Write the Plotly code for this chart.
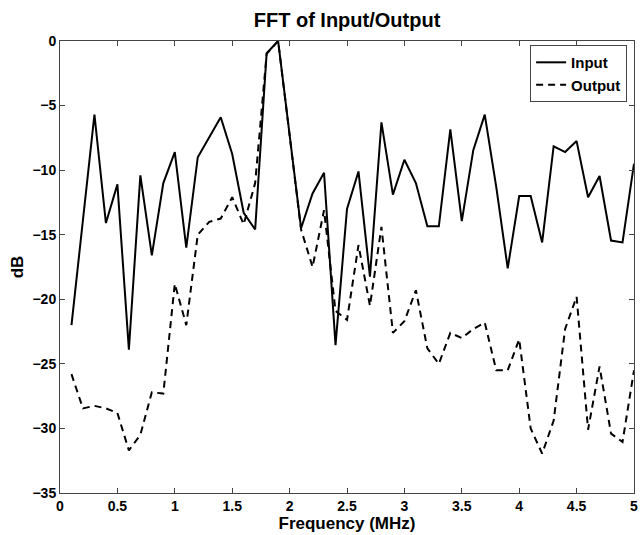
import plotly.graph_objects as go

freq_mhz = [0.1, 0.2, 0.3, 0.4, 0.5, 0.6, 0.7, 0.8, 0.9, 1.0,
            1.1, 1.2, 1.3, 1.4, 1.5, 1.6, 1.7, 1.8, 1.9, 2.0,
            2.1, 2.2, 2.3, 2.4, 2.5, 2.6, 2.7, 2.8, 2.9, 3.0,
            3.1, 3.2, 3.3, 3.4, 3.5, 3.6, 3.7, 3.8, 3.9, 4.0,
            4.1, 4.2, 4.3, 4.4, 4.5, 4.6, 4.7, 4.8, 4.9, 5.0]

input_db = [-22.0, -13.9, -5.7, -14.1, -11.1, -23.9, -10.4, -16.6, -11.0, -8.6,
            -16.0, -9.0, -7.5, -5.9, -8.75, -13.3, -14.6, -0.95, 0.0, -7.3,
            -14.5, -11.8, -10.2, -23.55, -13.0, -10.1, -18.25, -6.3, -11.9, -9.2,
            -11.0, -14.35, -14.35, -6.85, -13.95, -8.45, -5.7, -11.3, -17.6, -12.0,
            -12.0, -15.6, -8.15, -8.6, -7.75, -12.1, -10.45, -15.45, -15.6, -9.5]

output_db = [-25.8, -28.45, -28.25, -28.45, -28.8, -31.7, -30.5, -27.2, -27.3, -18.8,
             -22.0, -15.0, -14.0, -13.75, -12.1, -14.2, -11.0, -1.0, 0.0, -7.3,
             -14.6, -17.5, -13.1, -20.9, -21.6, -15.8, -20.5, -14.4, -22.6, -21.7,
             -19.3, -23.8, -25.0, -22.6, -23.0, -22.3, -21.8, -25.5, -25.5, -23.1,
             -30.0, -31.95, -29.4, -22.3, -19.8, -30.1, -25.2, -30.4, -31.05, -25.5]

x_ticks = [0, 0.5, 1, 1.5, 2, 2.5, 3, 3.5, 4, 4.5, 5]
y_ticks = [-35, -30, -25, -20, -15, -10, -5, 0]

FONT = "Liberation Sans, Arial, Helvetica, sans-serif"
AXIS_COLOR = "#444444"

fig = go.Figure()
fig.add_trace(go.Scatter(x=freq_mhz, y=input_db, mode="lines", name="Input",
                         line=dict(color="black", width=2)))
fig.add_trace(go.Scatter(x=freq_mhz, y=output_db, mode="lines", name="Output",
                         line=dict(color="black", width=2, dash="7px,5px")))

axis_common = dict(
    showline=True, linecolor=AXIS_COLOR, linewidth=1, mirror="ticks",
    ticks="inside", ticklen=5, tickcolor=AXIS_COLOR, tickwidth=1,
    showgrid=False, zeroline=False, ticklabeloverflow="allow",
    tickfont=dict(family=FONT, size=14, color="black", weight="bold"),
)

fig.update_layout(
    width=641, height=535,
    margin=dict(l=60, r=3, t=41, b=42),
    paper_bgcolor="white", plot_bgcolor="white",
    title=dict(text="FFT of Input/Output", x=0.5, xref="paper", xanchor="center",
               y=1 - 20 / 535, yanchor="middle", yref="container",
               font=dict(family=FONT, size=20, color="black", weight="bold")),
    xaxis=dict(range=[0, 5], tickmode="array", tickvals=x_ticks,
               ticktext=[f"{v:g}" for v in x_ticks],
               title=dict(text="Frequency (MHz)", standoff=0,
                          font=dict(family=FONT, size=17, color="black", weight="bold")),
               **axis_common),
    yaxis=dict(range=[-35, 0], tickmode="array", tickvals=y_ticks,
               title=dict(text="dB", standoff=4,
                          font=dict(family=FONT, size=17, color="black", weight="bold")),
               **axis_common),
    legend=dict(x=0.988, xanchor="right", y=0.991, yanchor="top",
                bgcolor="white", bordercolor=AXIS_COLOR, borderwidth=1,
                font=dict(family=FONT, size=15, color="black", weight="bold"),
                tracegroupgap=0, itemwidth=30),
    showlegend=True,
)

fig.write_html("out.html")
